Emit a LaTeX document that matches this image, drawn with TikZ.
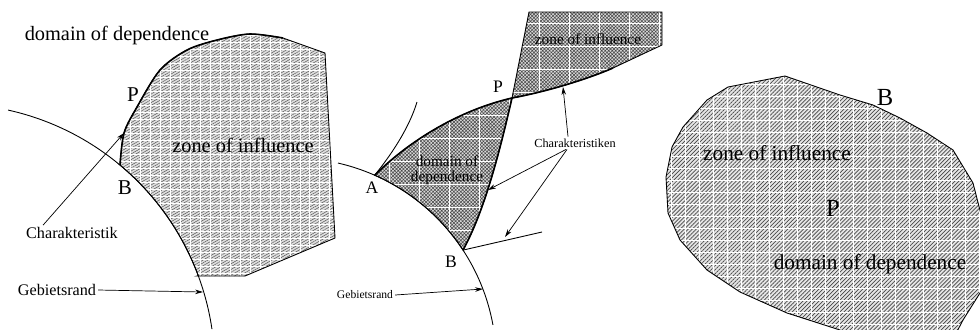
\documentclass[tikz,border=0pt]{standalone}
\usepackage{fontspec}
\setmainfont{Liberation Serif}
\usetikzlibrary{arrows.meta,patterns.meta,calc}
\tikzset {>={Stealth[length=4.5pt,width=2.6pt]},
  hatchone/.style={preaction={fill=gray!25},pattern={Lines[angle=30,distance=1.4pt,line width=.3pt]},pattern color=gray!70!black},
  hatchtwo/.style={preaction={fill=gray!30},pattern={Hatch[angle=45,distance=1.4pt,line width=.3pt]},pattern color=gray!55!black},
  hatchthree/.style={preaction={fill=gray!20},pattern={Lines[angle=45,distance=1.6pt,line width=.4pt]},pattern color=gray!55!black},
  raster/.style={white,line width=.5pt},
  lbl/.style={inner sep=1pt,font=\fontsize{#1}{#1}\selectfont}}

\begin{document}
\begin{tikzpicture}[x=.02cm,y=-.02cm]
\useasboundingbox (0,0) rectangle (980,329);
% left picture: boundary point B
\coordinate (B1) at (120,165);
\coordinate (T1) at (124,133);
\coordinate (R1) at (203,292);
\def\zoneone{(B1) -- plot[smooth] coordinates {(120,165) (124,133) (137,107) (160,70) (187,50) (217,40) (250,34) (283,38)}
  -- (325,53) -- (335,238) -- (245,276) -- (197,276)
  -- plot[domain=-20.4:-50.2,samples=30] ({-49+263.8*cos(\x)},{367.6+263.8*sin(\x)}) -- cycle}
\fill[hatchone] \zoneone;
\begin{scope}
\clip \zoneone;
\draw[raster,xstep=.2cm,ystep=.14cm] (110,20) grid (340,290);
\end{scope}
\draw[line width=.5pt] \zoneone;
\draw[line width=.9pt] plot[smooth] coordinates {(120,165) (124,133) (137,107) (160,70) (187,50) (217,40) (250,34) (283,38)};
\draw[line width=.5pt] plot[domain=-77.5:-8.4,samples=60] ({-49+263.8*cos(\x)},{367.6+263.8*sin(\x)});
\node[lbl=11.6] (dod1) at (117,35) {domain of dependence};
\node[lbl=12] (P1) at (133,95) {P};
\node[lbl=12] (Bl1) at (125,188) {B};
\node[lbl=11.6] (zoi1) at (243,145) {zone of influence};
\node[lbl=9.2] (char1) at (72,233) {Charakteristik};
\node[lbl=9.2] (geb1) at (57,290) {Gebietsrand};
\draw[->] ($(char1.north)+(-29,0)$) -- (T1);
\draw[->] (geb1.east) -- (R1);
% middle picture: A, B on the boundary
\coordinate (A2) at (374.7,175.2);
\coordinate (B2) at (463,250.1);
\coordinate (P2) at (512,98);
\coordinate (C2a) at (563,87);
\coordinate (C2b) at (488,190);
\coordinate (C2c) at (505,237);
\coordinate (R2) at (483,289);
\def\domtwo{(A2) .. controls (410,140) and (460,110) .. (P2) .. controls (500,150) and (485,210) .. (B2)
  -- plot[domain=-33.2:-66.2,samples=30] ({292.5+203.8*cos(\x)},{361.7+203.8*sin(\x)}) -- cycle}
\def\zonetwo{(P2) -- (529,12) -- (662,12) -- (662,45) -- (613,68) .. controls (590,78) and (550,91) .. (P2) -- cycle}
\fill[hatchtwo] \domtwo;
\fill[hatchtwo] \zonetwo;
\begin{scope}
\clip \domtwo;
\draw[raster,xstep=.6cm,ystep=.46cm] (360,90) grid (520,260);
\end{scope}
\begin{scope}
\clip \zonetwo;
\draw[raster,xstep=.6cm,ystep=.46cm] (500,0) grid (670,110);
\end{scope}
\draw[line width=.5pt] \domtwo;
\draw[line width=.5pt] \zonetwo;
\draw[line width=.9pt] (A2) .. controls (410,140) and (460,110) .. (P2) .. controls (550,91) and (590,78) .. (613,68);
\draw[line width=.9pt] (P2) .. controls (500,150) and (485,210) .. (B2);
\draw[line width=.5pt] (A2) .. controls (395,150) and (410,125) .. (417,102);
\draw[line width=.5pt] (B2) -- (542,232);
\draw[line width=.5pt] plot[domain=-77.1:-10.4,samples=60] ({292.5+203.8*cos(\x)},{361.7+203.8*sin(\x)});
\node[lbl=10] (P2l) at (498,87) {P};
\node[lbl=10] (A2l) at (372,188) {A};
\node[lbl=10] (B2l) at (451,262) {B};
\node[lbl=8.7] (zoi2) at (588,39) {zone of influence};
\node[lbl=8.7,align=center,font=\fontsize{8.7}{8.7}\selectfont] (dod2) at (447,170) {domain of\\dependence};
\node[lbl=7] (charn2) at (575,143) {Charakteristiken};
\node[lbl=6.6] (geb2) at (365,295) {Gebietsrand};
\draw[->] ($(charn2.north)+(-7,0)$) -- (C2a);
\draw[->] ($(charn2.south)+(-9,0)$) -- (C2b);
\draw[->] ($(charn2.south)+(-8,0)$) -- (C2c);
\draw[->] (geb2.east) -- (R2);
% right picture: P inside the domain
\begin{scope}
\clip (640,0) rectangle (980,329);
\def\blob{(785,76) -- (840,95) -- (873,105) -- (900,118) -- (927,133) -- (953,150) -- (973,183) -- (985,230)
  -- (985,285) -- (963,320) -- (950,345) -- (860,345) -- (840,330) -- (787,313) -- (740,292) -- (707,270)
  -- (680,240) -- (668,213) -- (666,177) -- (672,147) -- (683,127) -- (707,100) -- (728,87) -- cycle}
\fill[hatchthree] \blob;
\begin{scope}
\clip \blob;
\draw[raster,xstep=.28cm,ystep=.24cm] (660,70) grid (990,340);
\end{scope}
\draw[line width=.5pt] \blob;
\end{scope}
\node[lbl=14] (B3) at (885,97) {B};
\node[lbl=12.1] (zoi3) at (777,153) {zone of influence};
\node[lbl=14] (P3) at (833,208) {P};
\node[lbl=12.1] (dod3) at (870,264) {domain of dependence};
\end{tikzpicture}
\end{document}
